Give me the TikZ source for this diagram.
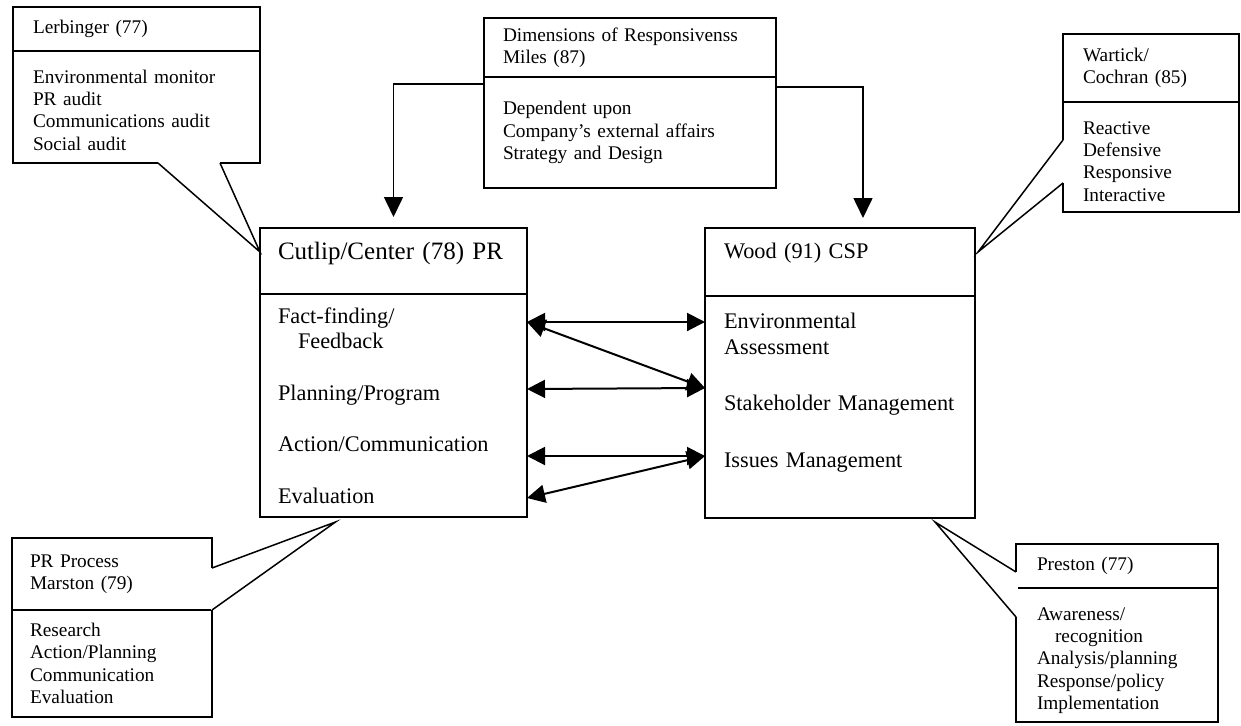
\documentclass[tikz,border=0pt]{standalone}
\usepackage{fontspec}
\setmainfont{Liberation Serif}
\usetikzlibrary{arrows.meta,positioning}
\tikzstyle{box} = [draw, line width=1.5pt, outer sep=0pt, inner ysep=0pt, align=left]
\tikzstyle{sidetext} = [font=\fontsize{19.3}{22.3}\selectfont]
\tikzstyle{maintext} = [font=\fontsize{22.3}{25.5}\selectfont]
\tikzstyle{titletext} = [font=\fontsize{25}{28}\selectfont]
\tikzstyle{drop} = [-{Triangle[length=20pt,width=19pt]}, line width=1.6pt]
\tikzstyle{both} = [{Triangle[length=18pt,width=18pt]}-{Triangle[length=18pt,width=18pt]}, line width=2pt]
\tikzstyle{gap} = [white, line width=3pt]
\tikzstyle{pointer} = [line width=1.5pt]

\begin{document}
\begin{tikzpicture}[x=1pt, y=-1pt]
    \useasboundingbox (0,0) rectangle (1241,725);

    % Lerbinger
    \node[box, sidetext, anchor=north west, inner xsep=20pt, text width=207pt, minimum height=44pt] (lerbhead) at (13,7) {Lerbinger (77)};
    \node[box, sidetext, below=0pt of lerbhead, inner xsep=20pt, text width=207pt, minimum height=112pt] (lerbbody)
        {\rule{0pt}{19.5pt}Environmental monitor\\PR audit\\Communications audit\\Social audit};

    % Miles
    \node[box, sidetext, anchor=north west, inner xsep=19pt, text width=254pt, minimum height=59pt] (dimhead) at (484,18)
        {Dimensions of Responsivenss\\Miles (87)};
    \node[box, sidetext, below=0pt of dimhead, inner xsep=19pt, text width=254pt, minimum height=111pt] (dimbody)
        {Dependent upon\\Company's external affairs\\Strategy and Design};

    % Wartick/Cochran
    \node[box, sidetext, anchor=north west, inner xsep=20pt, text width=136pt, minimum height=68pt] (warthead) at (1063,34)
        {Wartick/\\Cochran (85)};
    \node[box, sidetext, below=0pt of warthead, inner xsep=20pt, text width=136pt, minimum height=110pt] (wartbody)
        {\rule{0pt}{21.5pt}Reactive\\Defensive\\Responsive\\Interactive};

    % Cutlip/Center
    \node[box, titletext, anchor=north west, inner xsep=18pt, text width=231pt, minimum height=66pt] (cuthead) at (260,228)
        {\raisebox{8pt}[\height][\depth]{Cutlip/Center (78) PR}};
    \node[box, maintext, below=0pt of cuthead, inner xsep=18pt, text width=231pt, minimum height=223pt] (cutbody)
        {Fact-finding/\\\hspace*{20pt}Feedback\\[26pt]Planning/Program\\[26pt]Action/Communication\\[26pt]Evaluation};

    % Wood
    \node[box, maintext, anchor=north west, inner xsep=19pt, text width=232pt, minimum height=68pt] (woodhead) at (705,228)
        {\raisebox{9pt}[\height][\depth]{Wood (91) CSP}};
    \node[box, maintext, below=0pt of woodhead, inner xsep=19pt, text width=232pt, minimum height=222pt] (woodbody)
        {Environmental\\Assessment\\[31pt]Stakeholder Management\\[31pt]Issues Management\\[8pt]\mbox{}};

    % Marston
    \node[box, sidetext, anchor=north west, inner xsep=18pt, text width=164pt, minimum height=72pt] (prhead) at (12,538)
        {PR Process\\Marston (79)};
    \node[box, sidetext, below=0pt of prhead, inner xsep=18pt, text width=164pt, minimum height=107pt] (prbody)
        {Research\\Action/Planning\\Communication\\Evaluation};

    % Preston
    \node[box, sidetext, anchor=north west, inner xsep=21pt, text width=160pt, minimum height=44pt] (preshead) at (1016,544)
        {Preston (77)};
    \node[box, sidetext, below=0pt of preshead, inner xsep=21pt, text width=160pt, minimum height=134pt] (presbody)
        {\rule{0pt}{23.5pt}Awareness/\\\hspace*{18pt}recognition\\Analysis/planning\\Response/policy\\Implementation};

    % callout pointers
    \coordinate (lerb-1) at ([xshift=145pt]lerbbody.south west);
    \coordinate (lerb-2) at ([xshift=207pt]lerbbody.south west);
    \coordinate (lerb-tip) at ([yshift=-24pt]cuthead.north west);
    \coordinate (wart-1) at ([yshift=-38pt]wartbody.north west);
    \coordinate (wart-2) at ([yshift=-81pt]wartbody.north west);
    \coordinate (wart-tip) at ([xshift=3pt,yshift=-24pt]woodhead.north east);
    \coordinate (pr-1) at ([yshift=-30pt]prhead.north east);
    \coordinate (pr-2) at (prhead.south east);
    \coordinate (pr-tip) at ([xshift=-58pt,yshift=-5pt]cutbody.south);
    \coordinate (pres-1) at ([yshift=-28pt]preshead.north west);
    \coordinate (pres-2) at ([yshift=-29pt]presbody.north west);
    \coordinate (pres-tip) at ([xshift=-40pt,yshift=-4pt]woodbody.south east);
    \foreach \n in {lerb,wart,pr,pres}{
        \draw[gap] (\n-1) -- (\n-2);
        \draw[pointer] (\n-1) -- (\n-tip) -- (\n-2);
    }

    \draw[drop] ([yshift=-7pt]dimbody.north west) -| ([yshift=11pt]cuthead.north);
    \draw[drop] ([yshift=-10pt]dimbody.north east) -| ([xshift=23pt,yshift=10pt]woodhead.north);

    \foreach \l/\r in {28/26, 28/92, 95/92, 162/160, 204/160}
        \draw[both] ([yshift=-\l pt]cutbody.north east) -- ([yshift=-\r pt]woodbody.north west);
\end{tikzpicture}
\end{document}
